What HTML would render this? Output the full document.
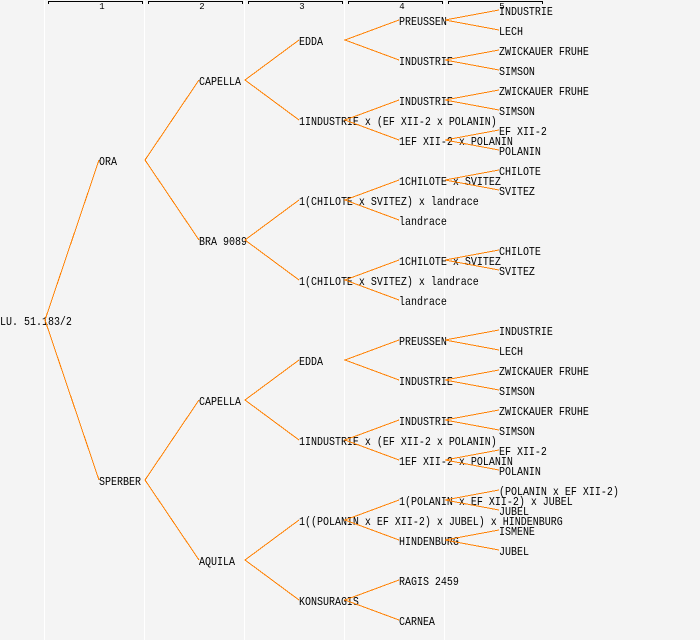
<!DOCTYPE html>
<html><head><meta charset="utf-8"><style>
html,body{margin:0;padding:0;background:#f4f4f4;width:700px;height:640px;overflow:hidden}
svg{display:block}
text{font-family:"Liberation Mono","DejaVu Sans Mono",monospace;font-size:12px;fill:#000}
.n{font-size:9px;text-anchor:middle}
.o{stroke:#ff8000;stroke-width:1;fill:none;shape-rendering:crispEdges}
</style></head><body>
<svg width="700" height="640" viewBox="0 0 700 640" xmlns="http://www.w3.org/2000/svg">
<rect width="700" height="640" fill="#f4f4f4"/>
<g fill="#ffffff"><rect x="44" y="0" width="1" height="640"/><rect x="144" y="0" width="1" height="640"/><rect x="244" y="0" width="1" height="640"/><rect x="344" y="0" width="1" height="640"/><rect x="444" y="0" width="1" height="640"/></g>
<g stroke="#000" fill="none" shape-rendering="crispEdges">
<path d="M48.5 4V1.500H142.500V4"/><path d="M148.500 4V1.500H242.500V4"/><path d="M248.500 4V1.500H342.500V4"/><path d="M348.500 4V1.500H442.500V4"/><path d="M448.500 4V1.500H542.500V4"/>
</g>
<text class="n" x="102" y="9">1</text><text class="n" x="202" y="9">2</text><text class="n" x="302" y="9">3</text><text class="n" x="402" y="9">4</text><text class="n" x="502" y="9">5</text>
<g transform="translate(0 -1) scale(0.8333 1)">
<text x="0" y="326">LU. 51.183/2</text>
<text x="118.800" y="166">ORA</text><text x="118.800" y="486">SPERBER</text>
<text x="238.800" y="86">CAPELLA</text><text x="238.800" y="246">BRA 9089</text><text x="238.800" y="406">CAPELLA</text><text x="238.800" y="566">AQUILA</text>
<text x="358.800" y="46">EDDA</text><text x="358.800" y="126">1INDUSTRIE x (EF XII-2 x POLANIN)</text><text x="358.800" y="206">1(CHILOTE x SVITEZ) x landrace</text><text x="358.800" y="286">1(CHILOTE x SVITEZ) x landrace</text><text x="358.800" y="366">EDDA</text><text x="358.800" y="446">1INDUSTRIE x (EF XII-2 x POLANIN)</text><text x="358.800" y="526">1((POLANIN x EF XII-2) x JUBEL) x HINDENBURG</text><text x="358.800" y="606">KONSURAGIS</text>
<text x="478.800" y="26">PREUSSEN</text><text x="478.800" y="66">INDUSTRIE</text><text x="478.800" y="106">INDUSTRIE</text><text x="478.800" y="146">1EF XII-2 x POLANIN</text><text x="478.800" y="186">1CHILOTE x SVITEZ</text><text x="478.800" y="226">landrace</text><text x="478.800" y="266">1CHILOTE x SVITEZ</text><text x="478.800" y="306">landrace</text><text x="478.800" y="346">PREUSSEN</text><text x="478.800" y="386">INDUSTRIE</text><text x="478.800" y="426">INDUSTRIE</text><text x="478.800" y="466">1EF XII-2 x POLANIN</text><text x="478.800" y="506">1(POLANIN x EF XII-2) x JUBEL</text><text x="478.800" y="546">HINDENBURG</text><text x="478.800" y="586">RAGIS 2459</text><text x="478.800" y="626">CARNEA</text>
<text x="598.800" y="16">INDUSTRIE</text><text x="598.800" y="36">LECH</text><text x="598.800" y="56">ZWICKAUER FRUHE</text><text x="598.800" y="76">SIMSON</text><text x="598.800" y="96">ZWICKAUER FRUHE</text><text x="598.800" y="116">SIMSON</text><text x="598.800" y="136">EF XII-2</text><text x="598.800" y="156">POLANIN</text><text x="598.800" y="176">CHILOTE</text><text x="598.800" y="196">SVITEZ</text><text x="598.800" y="256">CHILOTE</text><text x="598.800" y="276">SVITEZ</text><text x="598.800" y="336">INDUSTRIE</text><text x="598.800" y="356">LECH</text><text x="598.800" y="376">ZWICKAUER FRUHE</text><text x="598.800" y="396">SIMSON</text><text x="598.800" y="416">ZWICKAUER FRUHE</text><text x="598.800" y="436">SIMSON</text><text x="598.800" y="456">EF XII-2</text><text x="598.800" y="476">POLANIN</text><text x="598.800" y="496">(POLANIN x EF XII-2)</text><text x="598.800" y="516">JUBEL</text><text x="598.800" y="536">ISMENE</text><text x="598.800" y="556">JUBEL</text>
</g>
<path class="o" d="M99 160L45 320L99 480
M199 80L145 160L199 240
M199 400L145 480L199 560
M299 40L245 80L299 120
M299 200L245 240L299 280
M299 360L245 400L299 440
M299 520L245 560L299 600
M399 20L345 40L399 60
M399 100L345 120L399 140
M399 180L345 200L399 220
M399 260L345 280L399 300
M399 340L345 360L399 380
M399 420L345 440L399 460
M399 500L345 520L399 540
M399 580L345 600L399 620
M499 10L445 20L499 30
M499 50L445 60L499 70
M499 90L445 100L499 110
M499 130L445 140L499 150
M499 170L445 180L499 190
M499 250L445 260L499 270
M499 330L445 340L499 350
M499 370L445 380L499 390
M499 410L445 420L499 430
M499 450L445 460L499 470
M499 490L445 500L499 510
M499 530L445 540L499 550"/>
</svg>
</body></html>
